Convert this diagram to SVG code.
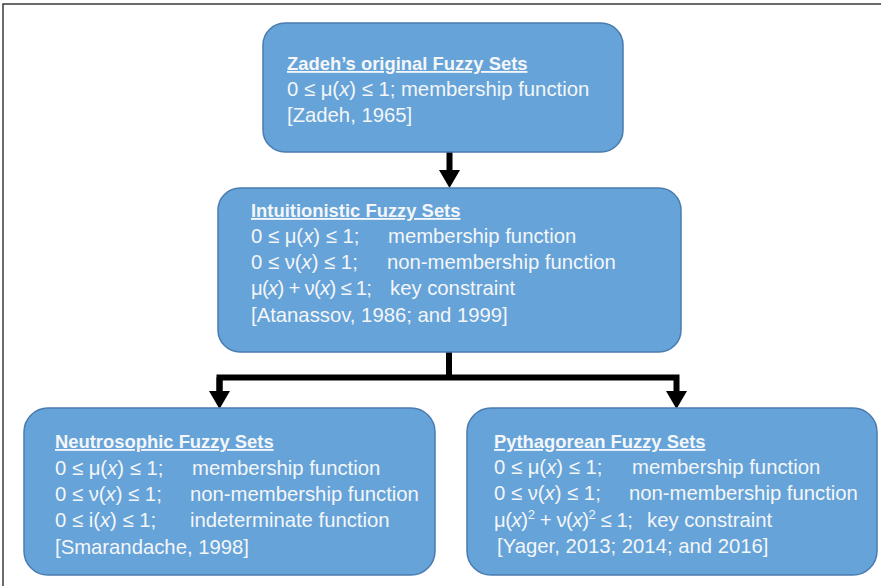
<svg xmlns="http://www.w3.org/2000/svg" width="881" height="586" viewBox="0 0 881 586">
<style>
.box{fill:#65a3d8;stroke:#4a7cb0;stroke-width:1.5}
text{font-family:"Liberation Sans",Arial,sans-serif;fill:#f4f6f8}
.t{font-size:18.4px;font-weight:bold;text-decoration:underline}
.b{font-size:20.3px}
.i{font-style:italic}
.conn{fill:none;stroke:#000;stroke-width:6}
</style>
<defs>
<marker id="ah" viewBox="0 0 18 21" markerWidth="18" markerHeight="21" refX="8" refY="10.5" orient="auto" markerUnits="userSpaceOnUse">
<path d="M0,0 L18,10.5 L0,21 z" fill="#000"/>
</marker>
</defs>
<rect width="881" height="586" fill="#fff"/>
<path d="M3 586 V4 H881" fill="none" stroke="#3a3a3a" stroke-width="1.5"/>

<g id="connectors">
<path class="conn" d="M449.5 152 V178" marker-end="url(#ah)"/>
<path class="conn" d="M449 352 V377.5"/>
<path class="conn" d="M219.5 399 V377.5 H676.5 V399" marker-end="url(#ah)"/>
<path class="conn" d="M219.5 377.5 V399" marker-end="url(#ah)"/>
</g>

<g id="zadeh">
<rect class="box" x="263" y="23" width="360" height="129" rx="22"/>
<text class="t" x="287" y="70">Zadeh’s original Fuzzy Sets</text>
<text class="b" x="287" y="96">0 ≤ μ(<tspan class="i">x</tspan>) ≤ 1; membership function</text>
<text class="b" x="287" y="122">[Zadeh, 1965]</text>
</g>

<g id="intuitionistic">
<rect class="box" x="218" y="188" width="463" height="164" rx="22"/>
<text class="t" x="251" y="217">Intuitionistic Fuzzy Sets</text>
<text class="b" x="251" y="243">0 ≤ μ(<tspan class="i">x</tspan>) ≤ 1;</text>
<text class="b" x="388" y="243">membership function</text>
<text class="b" x="251" y="269">0 ≤ ν(<tspan class="i">x</tspan>) ≤ 1;</text>
<text class="b" x="387" y="269">non-membership function</text>
<text class="b" x="251" y="295" textLength="121" lengthAdjust="spacing">μ(<tspan class="i">x</tspan>) + ν(<tspan class="i">x</tspan>) ≤ 1;</text>
<text class="b" x="390" y="295">key constraint</text>
<text class="b" x="251" y="322">[Atanassov, 1986; and 1999]</text>
</g>

<g id="neutrosophic">
<rect class="box" x="24" y="408" width="411" height="167" rx="24"/>
<text class="t" x="55" y="448">Neutrosophic Fuzzy Sets</text>
<text class="b" x="55" y="475">0 ≤ μ(<tspan class="i">x</tspan>) ≤ 1;</text>
<text class="b" x="192" y="475">membership function</text>
<text class="b" x="55" y="501">0 ≤ ν(<tspan class="i">x</tspan>) ≤ 1;</text>
<text class="b" x="190" y="501">non-membership function</text>
<text class="b" x="55" y="527">0 ≤ i(<tspan class="i">x</tspan>) ≤ 1;</text>
<text class="b" x="190" y="527">indeterminate function</text>
<text class="b" x="55" y="554">[Smarandache, 1998]</text>
</g>

<g id="pythagorean">
<rect class="box" x="467" y="408" width="410" height="167" rx="24"/>
<text class="t" x="494" y="448">Pythagorean Fuzzy Sets</text>
<text class="b" x="494" y="474">0 ≤ μ(<tspan class="i">x</tspan>) ≤ 1;</text>
<text class="b" x="632" y="474">membership function</text>
<text class="b" x="494" y="500">0 ≤ ν(<tspan class="i">x</tspan>) ≤ 1;</text>
<text class="b" x="629" y="500">non-membership function</text>
<text class="b" x="494" y="527" textLength="139" lengthAdjust="spacing">μ(<tspan class="i">x</tspan>)<tspan font-size="13" dy="-8">2</tspan><tspan dy="8"> + ν(</tspan><tspan class="i">x</tspan>)<tspan font-size="13" dy="-8">2</tspan><tspan dy="8"> ≤ 1;</tspan></text>
<text class="b" x="647" y="527">key constraint</text>
<text class="b" x="497" y="553">[Yager, 2013; 2014; and 2016]</text>
</g>
</svg>
